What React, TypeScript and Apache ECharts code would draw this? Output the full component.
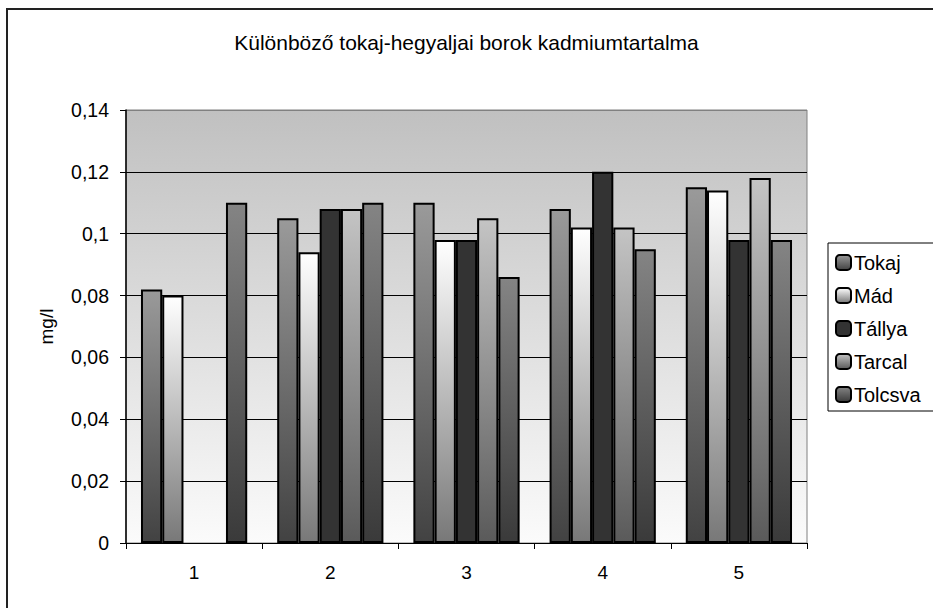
import React, { useEffect, useRef } from "react";
import * as echarts from "echarts";

// Cadmium content (mg/l) of wines from five Tokaj-Hegyalja villages, five samples each
const categories = ["1", "2", "3", "4", "5"];
const seriesNames = ["Tokaj", "Mád", "Tállya", "Tarcal", "Tolcsva"];
const tokaj = [0.082, 0.105, 0.11, 0.108, 0.115];
const mad = [0.08, 0.094, 0.098, 0.102, 0.114];
const tallya = [null, 0.108, 0.098, 0.12, 0.098];
const tarcal = [null, 0.108, 0.105, 0.102, 0.118];
const tolcsva = [0.11, 0.11, 0.086, 0.095, 0.098];
const seriesValues = [tokaj, mad, tallya, tarcal, tolcsva];

// top / bottom shade of each bar's vertical gradient
const shades: [string, string][] = [
  ["#9a9a9a", "#424242"],
  ["#ffffff", "#787878"],
  ["#333333", "#333333"],
  ["#c4c4c4", "#5a5a5a"],
  ["#848484", "#3a3a3a"],
];

const FONT = "'Liberation Sans', Arial, sans-serif";

const vGrad = (top: string, bottom: string) =>
  new echarts.graphic.LinearGradient(0, 0, 0, 1, [
    { offset: 0, color: top },
    { offset: 1, color: bottom },
  ]);

export default function App() {
  const ref = useRef<HTMLDivElement>(null);

  useEffect(() => {
    if (!ref.current) return;
    const chart = echarts.init(ref.current, undefined, { renderer: "svg" });

    const fmt = (v: number) => String(+v.toFixed(2)).replace(".", ",");

    chart.setOption({
      animation: false,
      backgroundColor: "#ffffff",
      title: {
        text: "Különböző tokaj-hegyaljai borok kadmiumtartalma",
        left: "center",
        top: 27,
        textStyle: { fontFamily: FONT, fontSize: 21, fontWeight: "normal", color: "#000" },
      },
      legend: {
        orient: "vertical",
        left: 835,
        top: 252,
        itemWidth: 15,
        itemHeight: 15,
        itemGap: 12,
        padding: 0,
        textStyle: { fontFamily: FONT, fontSize: 20, color: "#000", padding: [0, 0, 0, -2], lineHeight: 21 },
        data: seriesNames,
      },
      grid: {
        left: 126,
        right: 126,
        top: 110,
        bottom: 65,
        show: true,
        backgroundColor: vGrad("#c0c0c0", "#fbfbfb"),
        borderColor: "#808080",
        borderWidth: 1,
      },
      xAxis: {
        type: "category",
        data: categories,
        axisLine: { lineStyle: { color: "#000", width: 1 } },
        axisTick: { show: true, length: 6, lineStyle: { color: "#000" } },
        axisLabel: { fontFamily: FONT, fontSize: 19, color: "#000", margin: 20 },
      },
      yAxis: {
        type: "value",
        min: 0,
        max: 0.14,
        interval: 0.02,
        name: "mg/l",
        nameLocation: "middle",
        nameGap: 70,
        nameTextStyle: { fontFamily: FONT, fontSize: 19, color: "#000000" },
        axisLine: { show: true, lineStyle: { color: "#000", width: 1.5 } },
        axisTick: { show: true, length: 6, lineStyle: { color: "#000" } },
        axisLabel: { fontFamily: FONT, fontSize: 19.5, color: "#000", margin: 17, formatter: fmt },
        splitLine: {
          show: true,
          lineStyle: {
            color: ["#000", "#000", "#000", "#000", "#000", "#000", "#000", "#808080"],
            width: 1,
          },
        },
      },
      series: seriesNames.map((name, i) => ({
        name,
        type: "bar",
        data: seriesValues[i],
        barGap: "0%",
        barCategoryGap: "22%",
        itemStyle: {
          color: vGrad(shades[i][0], shades[i][1]),
          borderColor: "#000",
          borderWidth: 2,
        },
      })),
      graphic: [
        {
          type: "polyline",
          shape: { points: [[7, 608], [7, 9], [933, 9]] },
          style: { stroke: "#222", lineWidth: 2, fill: null },
          silent: true,
        },
        {
          type: "rect",
          shape: { x: 828, y: 243, width: 110, height: 168 },
          style: { stroke: "#000", lineWidth: 1, fill: null },
          silent: true,
          z: 10,
        },
      ],
    });

    return () => chart.dispose();
  }, []);

  return (
    <div
      ref={ref}
      style={{ position: "fixed", left: 0, top: 0, width: 933, height: 608 }}
    />
  );
}
